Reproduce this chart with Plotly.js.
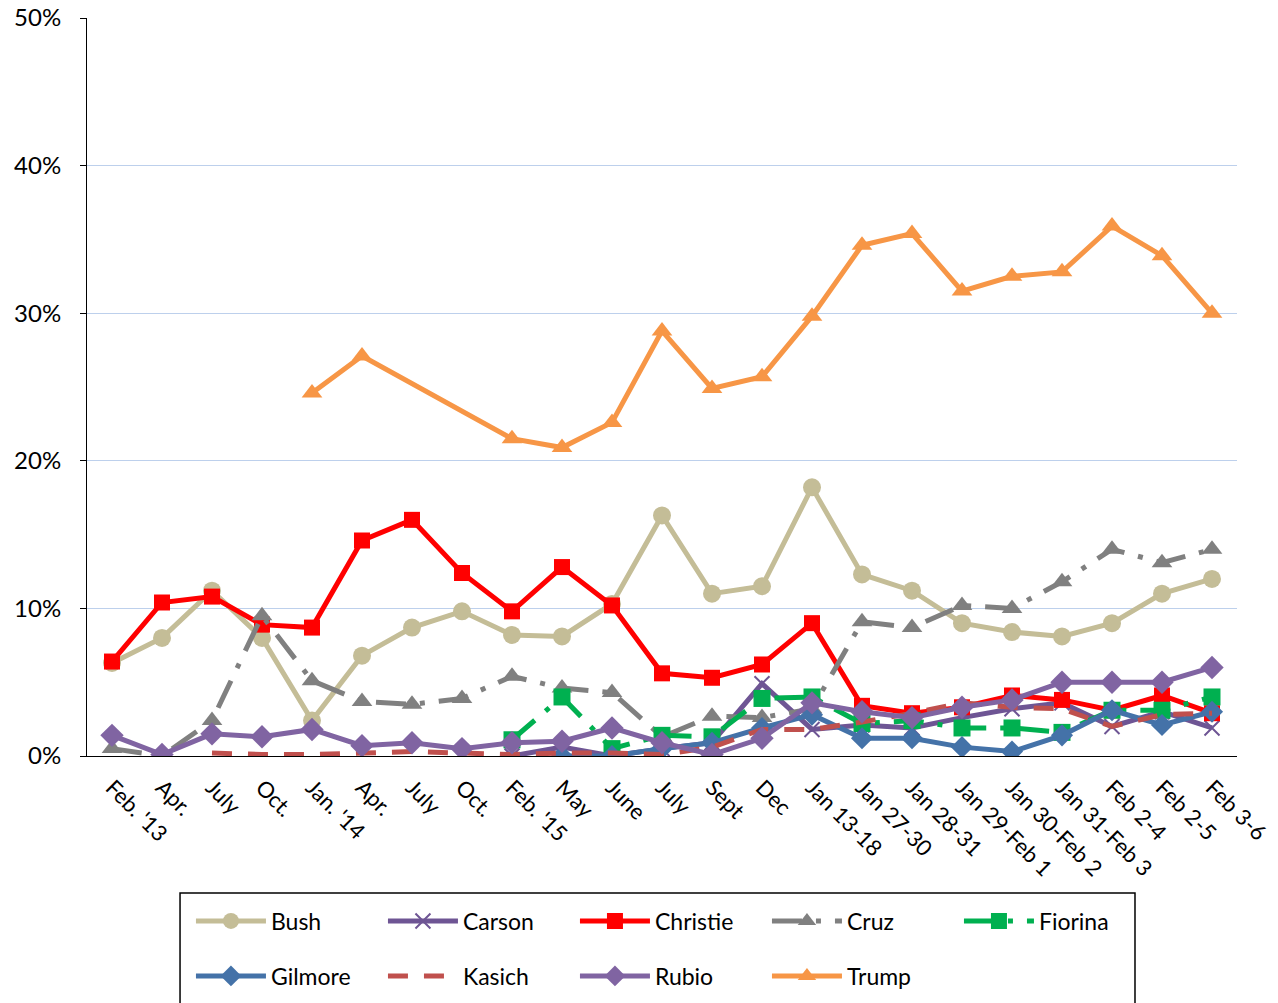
<!DOCTYPE html>
<html>
<head>
<meta charset="utf-8">
<script src="https://cdn.plot.ly/plotly-3.0.1.min.js"></script>
<style>html,body{margin:0;padding:0;background:#fff;}#chart{width:1278px;height:1003px;}</style>
</head>
<body>
<div id="chart"></div>
<script>
const tickLabels = ["Feb. '13","Apr.","July","Oct.","Jan. '14","Apr.","July","Oct.","Feb. '15","May","June","July","Sept","Dec","Jan 13-18","Jan 27-30","Jan 28-31","Jan 29-Feb 1","Jan 30-Feb 2","Jan 31-Feb 3","Feb 2-4","Feb 2-5","Feb 3-6"];
const xIdx = tickLabels.map((_, i) => i);

const bush     = [6.3, 8.0, 11.2, 8.0, 2.4, 6.8, 8.7, 9.8, 8.2, 8.1, 10.3, 16.3, 11.0, 11.5, 18.2, 12.3, 11.2, 9.0, 8.4, 8.1, 9.0, 11.0, 12.0];
const carson   = [null, null, null, null, null, null, null, null, 0.0, 0.6, 0.0, 0.5, 0.9, 4.9, 1.8, 2.1, 1.9, 2.6, 3.2, 3.6, 2.0, 3.0, 1.9];
const christie = [6.4, 10.4, 10.8, 8.9, 8.7, 14.6, 16.0, 12.4, 9.8, 12.8, 10.2, 5.6, 5.3, 6.2, 9.0, 3.4, 2.9, 3.3, 4.1, 3.8, 3.1, 4.1, 2.9];
const cruz     = [0.5, 0.0, 2.4, 9.5, 5.1, 3.7, 3.5, 3.9, 5.4, 4.6, 4.3, 1.3, 2.7, 2.6, 3.2, 9.1, 8.7, 10.2, 10.0, 11.8, 14.0, 13.1, 14.0];
const fiorina  = [null, null, null, null, null, null, null, null, 1.1, 4.0, 0.5, 1.4, 1.3, 3.9, 4.0, 2.2, 2.4, 1.9, 1.9, 1.6, 3.1, 3.1, 4.0];
const gilmore  = [null, null, null, null, null, null, null, null, null, 0.0, 0.0, 0.5, 0.9, 1.9, 2.8, 1.2, 1.2, 0.6, 0.3, 1.4, 3.1, 2.1, 3.0];
const kasich   = [null, null, 0.2, 0.1, 0.1, 0.2, 0.3, 0.2, 0.1, 0.2, 0.2, 0.1, 0.6, 1.8, 1.8, 2.3, 2.9, 3.6, 3.3, 3.2, 2.0, 2.8, 2.9];
const rubio    = [1.4, 0.1, 1.5, 1.3, 1.8, 0.7, 0.9, 0.5, 0.9, 1.0, 1.9, 0.9, 0.1, 1.2, 3.6, 3.0, 2.6, 3.3, 3.8, 5.0, 5.0, 5.0, 6.0];
const trump    = [null, null, null, null, 24.6, 27.1, null, null, 21.5, 20.9, 22.6, 28.8, 24.9, 25.7, 29.8, 34.6, 35.4, 31.5, 32.5, 32.8, 35.9, 33.9, 30.0];

const seriesNames = ["Bush","Carson","Christie","Cruz","Fiorina","Gilmore","Kasich","Rubio","Trump"];

function tr(name, y, color, symbol, msize, dash, showMarker, legendId) {
  return {
    type: 'scatter', mode: showMarker ? 'lines+markers' : 'lines', name: name,
    x: xIdx, y: y, connectgaps: true, legend: legendId,
    line: {color: color, width: 5, dash: dash || 'solid'},
    marker: {symbol: symbol, size: msize, color: color, line: {color: color, width: symbol === 'x-thin-open' ? 2 : 0}}
  };
}

const dashDot = '30px,14px,5px,14px';
const data = [
  tr(seriesNames[0], bush, '#C4BD97', 'circle', 18, 'solid', true, 'legend'),
  tr(seriesNames[1], carson, '#6E5594', 'x-thin-open', 15, 'solid', true, 'legend'),
  tr(seriesNames[2], christie, '#FF0000', 'square', 16, 'solid', true, 'legend'),
  tr(seriesNames[3], cruz, '#808080', 'triangle-up', 18, dashDot, true, 'legend'),
  tr(seriesNames[4], fiorina, '#00B050', 'square', 17, dashDot, true, 'legend'),
  tr(seriesNames[5], gilmore, '#4472A8', 'diamond', 17, 'solid', true, 'legend2'),
  tr(seriesNames[6], kasich, '#C0504D', '', 0, '20px,16px', false, 'legend2'),
  tr(seriesNames[7], rubio, '#8064A2', 'diamond', 18, 'solid', true, 'legend2'),
  tr(seriesNames[8], trump, '#F79646', 'triangle-up', 18, 'solid', true, 'legend2')
];

const legendBase = {
  orientation: 'h', x: 0.0904, xanchor: 'left', yanchor: 'middle',
  bgcolor: 'rgba(0,0,0,0)', borderwidth: 0,
  font: {size: 23, family: 'Lato, sans-serif', color: '#000000'}, itemwidth: 70, entrywidth: 107, entrywidthmode: 'pixels',
  traceorder: 'normal'
};

const layout = {
  width: 1278, height: 1003,
  margin: {l: 87, r: 41, t: 18, b: 247, autoexpand: false},
  paper_bgcolor: '#ffffff', plot_bgcolor: '#ffffff',
  font: {family: 'Lato, "Open Sans", sans-serif', color: '#000000', size: 20},
  showlegend: true,
  xaxis: {
    range: [-0.5, 22.5], tickmode: 'array', tickvals: xIdx, ticktext: tickLabels, automargin: false,
    tickangle: 45, showgrid: false, zeroline: false, showline: true, linecolor: '#000000', linewidth: 1,
    ticks: 'outside', ticklen: 9, tickcolor: 'rgba(0,0,0,0)', tickfont: {size: 22, family: 'Lato, sans-serif'}, fixedrange: true
  },
  yaxis: {
    range: [0, 50], dtick: 10, tick0: 0, ticksuffix: '%', showgrid: true, gridcolor: '#BDD0EC', gridwidth: 1, automargin: false,
    zeroline: false, showline: true, linecolor: '#000000', linewidth: 1, ticks: 'outside', ticklen: 6, tickcolor: '#000000',
    ticklabelstandoff: 14, tickfont: {size: 24, family: 'Lato, sans-serif'}, fixedrange: true
  },
  legend: Object.assign({}, legendBase, {y: -0.2236}),
  legend2: Object.assign({}, legendBase, {y: -0.2981}),
  shapes: [{
    type: 'rect', xref: 'paper', yref: 'paper', x0: 0.0809, x1: 0.9113, y0: -0.1856, y1: -0.36,
    line: {color: '#000000', width: 1.5}, fillcolor: 'rgba(0,0,0,0)', layer: 'below'
  }]
};
Plotly.newPlot('chart', data, layout, {staticPlot: true, displayModeBar: false});
</script>
</body>
</html>
